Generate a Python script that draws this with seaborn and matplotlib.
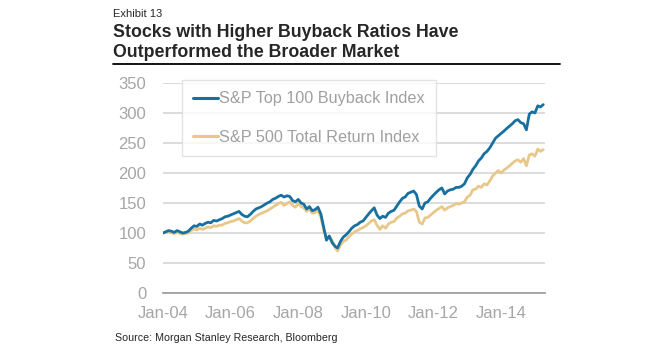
import matplotlib
matplotlib.use("Agg")
import matplotlib.pyplot as plt
import matplotlib.dates as mdates
from matplotlib.lines import Line2D
import seaborn as sns
import pandas as pd

# monthly index levels, Jan 2004 .. Apr 2015
buyback = [
    100, 102, 104, 103, 101, 104, 102, 100, 101, 103, 108, 112,   # 2004
    111, 115, 113, 116, 118, 117, 121, 120, 122, 124, 127, 128,   # 2005
    130, 132, 134, 136, 131, 128, 127, 131, 136, 140, 142, 144,   # 2006
    147, 150, 152, 156, 158, 161, 163, 160, 162, 161, 154, 152,   # 2007
    156, 150, 148, 140, 144, 137, 139, 143, 132, 110, 88, 95,     # 2008
    84, 78, 75, 86, 93, 97, 102, 108, 112, 114, 118, 120,         # 2009
    126, 132, 137, 142, 130, 124, 128, 126, 133, 136, 138, 145,   # 2010
    152, 158, 160, 166, 168, 170, 164, 145, 140, 150, 152, 158,   # 2011
    163, 168, 172, 175, 165, 170, 172, 173, 176, 176, 178, 182,   # 2012
    192, 198, 206, 212, 220, 225, 232, 236, 242, 250, 258, 262,   # 2013
    266, 270, 274, 278, 282, 287, 289, 284, 282, 272, 298, 302,   # 2014
    300, 312, 310, 314,                                           # 2015
]
sp500 = [
    100, 101, 102, 100, 99, 101, 99, 98, 99, 100, 104, 107,
    105, 108, 106, 108, 110, 109, 112, 111, 113, 113, 116, 117,
    119, 120, 122, 124, 120, 117, 117, 120, 124, 128, 131, 133,
    135, 137, 140, 143, 146, 149, 151, 146, 149, 152, 146, 143,
    149, 144, 142, 136, 140, 133, 134, 137, 127, 105, 92, 94,
    88, 76, 70, 80, 86, 88, 94, 98, 102, 104, 107, 109,
    112, 116, 120, 122, 113, 106, 112, 108, 115, 118, 119, 125,
    128, 132, 133, 137, 138, 140, 136, 118, 115, 125, 126, 130,
    134, 138, 141, 144, 138, 142, 144, 146, 149, 148, 150, 152,
    160, 163, 172, 173, 178, 176, 182, 180, 187, 195, 200, 204,
    200, 205, 208, 212, 216, 220, 222, 218, 224, 212, 230, 232,
    228, 240, 236, 239,
]
dates = pd.date_range("2004-01-01", periods=len(buyback), freq="MS")
names = ["S&P Top 100 Buyback Index", "S&P 500 Total Return Index"]
colors = ["#17709f", "#e8c88a"]

df = pd.concat([
    pd.DataFrame({"Date": dates, "Index": buyback, "Series": names[0]}),
    pd.DataFrame({"Date": dates, "Index": sp500, "Series": names[1]}),
])

sns.set_style("white")
plt.rcParams["font.family"] = ["Liberation Sans", "DejaVu Sans"]

fig = plt.figure(figsize=(6.72, 3.51), dpi=100)
ax = fig.add_axes([163 / 672, 58 / 351, 382 / 672, 210 / 351])

sns.lineplot(data=df, x="Date", y="Index", hue="Series", hue_order=names,
             palette=colors, linewidth=2.0, ax=ax)
# blue on top of tan
for ln, z in zip(ax.get_lines(), [3, 2]):
    ln.set_zorder(z)

ax.set_ylim(0, 350)
ax.set_yticks(range(0, 351, 50))
ax.set_xlim(pd.Timestamp("2004-01-01"), pd.Timestamp("2015-04-20"))
ax.xaxis.set_major_locator(mdates.YearLocator(2))
ax.xaxis.set_major_formatter(mdates.DateFormatter("Jan-%y"))
ax.set_xlabel("")
ax.set_ylabel("")
ax.grid(axis="y", color="#d9d9d9", linewidth=1.3)
ax.set_axisbelow(True)
for s in ["top", "right", "left"]:
    ax.spines[s].set_visible(False)
ax.spines["bottom"].set_color("#a0a0a0")
ax.spines["bottom"].set_linewidth(1.3)
ax.tick_params(axis="x", direction="in", length=4, width=1.2, color="#a0a0a0",
               labelsize=12, labelcolor="#a6a6a6", pad=9)
ax.tick_params(axis="y", length=0, labelsize=12, labelcolor="#a6a6a6", pad=12)

leg = ax.legend(loc="upper left", bbox_to_anchor=(182 / 672, 271 / 351),
                bbox_transform=fig.transFigure, fontsize=11.7, frameon=True,
                fancybox=False, handlelength=1.5, handletextpad=0.1,
                labelspacing=1.45, borderpad=0.7, borderaxespad=0)
leg.get_frame().set_edgecolor("#dddddd")
leg.get_frame().set_linewidth(1.0)
for t in leg.get_texts():
    t.set_color("#a0a0a0")
for h in leg.get_lines():
    h.set_linewidth(2.2)

fig.text(113 / 672, 1 - 17 / 351, "Exhibit 13", fontsize=8, va="baseline")
fig.text(113 / 672, 1 - 37 / 351, "Stocks with Higher Buyback Ratios Have",
         fontsize=12.8, fontweight="bold", va="baseline")
fig.text(113 / 672, 1 - 57 / 351, "Outperformed the Broader Market",
         fontsize=12.8, fontweight="bold", va="baseline")
fig.add_artist(Line2D([113 / 672, 560 / 672], [1 - 64 / 351] * 2,
                      color="black", linewidth=1.3))
fig.text(115 / 672, 1 - 338 / 351, "Source: Morgan Stanley Research, Bloomberg",
         fontsize=7.7, va="center")

fig.savefig("out.png", dpi=100)
